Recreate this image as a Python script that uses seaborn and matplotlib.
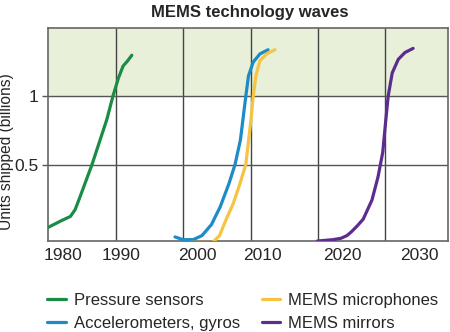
import pandas as pd
import seaborn as sns
import matplotlib.pyplot as plt
from matplotlib.ticker import FixedLocator

# data (year, billions of units shipped)
pressure_years = [1980.0, 1982.0, 1983.3, 1984.0, 1984.7, 1986.5, 1988.7, 1989.6, 1990.4, 1991.1, 1991.8, 1992.4]
pressure_units = [0.04, 0.09, 0.12, 0.17, 0.26, 0.50, 0.83, 1.00, 1.13, 1.22, 1.26, 1.30]

accel_years = [1998.8, 2000.0, 2001.5, 2002.8, 2004.2, 2005.5, 2006.8, 2007.7, 2008.5, 2009.3, 2009.7, 2010.4, 2011.4, 2012.6]
accel_units = [-0.03, -0.05, -0.05, -0.02, 0.06, 0.19, 0.36, 0.50, 0.68, 1.00, 1.15, 1.25, 1.31, 1.34]

mic_years = [2001.2, 2003.0, 2004.4, 2005.4, 2006.4, 2007.4, 2008.3, 2009.3, 2010.0, 2010.4, 2010.8, 2011.4, 2012.4, 2013.6]
mic_units = [-0.07, -0.07, -0.07, -0.02, 0.10, 0.21, 0.34, 0.50, 0.80, 1.00, 1.15, 1.26, 1.31, 1.34]

mirror_years = [2019.9, 2022.2, 2023.4, 2024.3, 2025.0, 2025.8, 2026.7, 2028.0, 2028.9, 2029.6, 2030.0, 2030.4, 2031.0, 2031.9, 2032.9, 2034.1]
mirror_units = [-0.06, -0.05, -0.04, -0.02, 0.01, 0.05, 0.10, 0.24, 0.41, 0.59, 0.80, 1.00, 1.17, 1.27, 1.32, 1.35]

series_names = ['Pressure sensors', 'Accelerometers, gyros', 'MEMS microphones', 'MEMS mirrors']
series_colors = ['#1b8c45', '#1d8bc6', '#f5c443', '#5b2d8e']

decades = [1980, 1990, 2000, 2010, 2020, 2030]
# the labels in the original sit a little to the right of their gridlines
label_positions = [1982.2, 1990.8, 2002.1, 2011.7, 2023.6, 2035.1]
y_ticks = [0.5, 1]
y_tick_labels = ['0.5', '1']


def plot_mems_waves():

    sns.set_style('white')
    plt.rcParams['font.family'] = ['Liberation Sans', 'DejaVu Sans']

    frames = []
    for name, years, units in zip(series_names,
                                  [pressure_years, accel_years, mic_years, mirror_years],
                                  [pressure_units, accel_units, mic_units, mirror_units]):
        frames.append(pd.DataFrame({'year': years, 'units': units, 'tech': name}))
    df = pd.concat(frames, ignore_index=True)

    fig = plt.figure(figsize=(4.5, 3.32), dpi=100)
    ax = fig.add_axes([0.107, 0.274, 0.889, 0.642])

    ax.axhspan(1, 1.5, color='#e8f0da', zorder=0)

    sns.lineplot(data=df, x='year', y='units', hue='tech', hue_order=series_names,
                 palette=series_colors, linewidth=2.3, sort=False, estimator=None,
                 legend=False, ax=ax, zorder=3)

    ax.set_xlim(1980, 2039.3)
    ax.set_ylim(-0.06, 1.5)

    # gridlines on the decades, labels placed separately
    ax.xaxis.set_minor_locator(FixedLocator(decades[1:]))
    ax.set_xticks(label_positions)
    ax.set_xticklabels([str(d) for d in decades], fontsize=12.5)
    ax.tick_params(axis='x', which='both', length=0, pad=5)
    ax.grid(True, axis='x', which='minor', color='#444444', linewidth=1.0, zorder=1)

    ax.set_yticks(y_ticks)
    ax.set_yticklabels(y_tick_labels, fontsize=12.5)
    ax.tick_params(axis='y', length=4, width=1.0, color='#555555', pad=3, left=True)
    ax.grid(True, axis='y', color='#555555', linewidth=1.0, zorder=1)

    for spine in ax.spines.values():
        spine.set_color('#666666')
        spine.set_linewidth(1.2)

    ax.set_xlabel('')
    ax.set_ylabel('Units shipped (billions)', fontsize=11.2)
    ax.yaxis.set_label_coords(-0.085, 0.42)

    fig.suptitle('MEMS technology waves', fontsize=12, fontweight='bold', x=0.556, y=0.985)

    handles = [plt.Line2D([], [], color=c, linewidth=2.3) for c in series_colors]
    fig.legend(handles, series_names, ncol=2, loc='upper left',
               bbox_to_anchor=(0.105, 0.118), frameon=False, fontsize=12,
               handlelength=1.1, handletextpad=0.5, columnspacing=1.3,
               labelspacing=0.5, borderaxespad=0, borderpad=0)

    plt.savefig('out.png', dpi=100)


plot_mems_waves()
